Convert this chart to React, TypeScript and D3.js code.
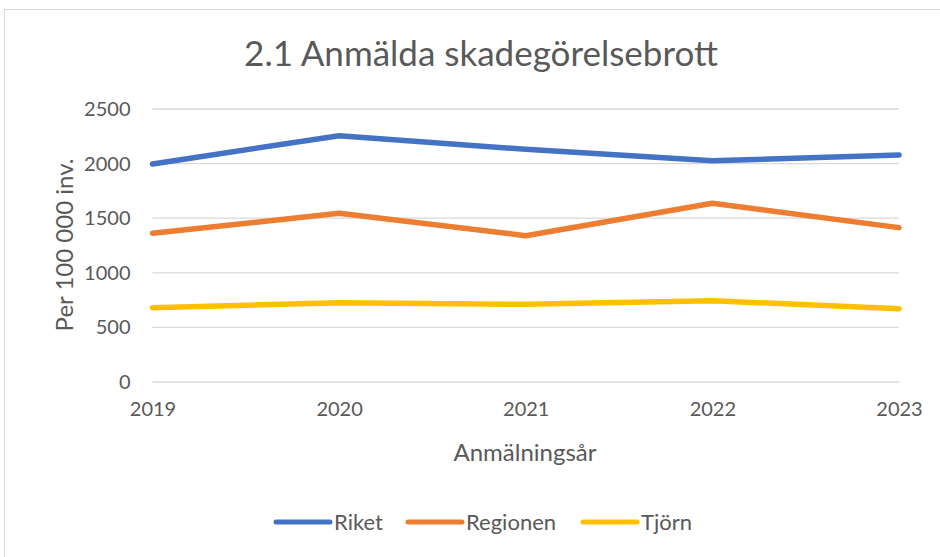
import React, { useEffect, useRef } from "react";
import * as d3 from "d3";

const years = ["2019", "2020", "2021", "2022", "2023"];
const riket = [1992, 2251, 2126, 2022, 2074];
const regionen = [1357, 1540, 1335, 1632, 1409];
const tjorn = [676, 722, 707, 740, 667];
const yTicks = [0, 500, 1000, 1500, 2000, 2500];
const seriesNames = ["Riket", "Regionen", "Tjörn"];
const seriesColors = ["#4472C4", "#ED7D31", "#FFC000"];

const W = 940;
const H = 557;
const font = "Lato, 'Open Sans', sans-serif";

export default function App() {
  const ref = useRef<SVGSVGElement>(null);

  useEffect(() => {
    const svg = d3.select(ref.current);
    svg.selectAll("*").remove();

    const margin = { left: 152.5, right: 41, top: 108.5, bottom: 175.5 };
    const xScale = d3.scalePoint().domain(years).range([margin.left, W - margin.right]);
    const yScale = d3.scaleLinear().domain([0, 2500]).range([H - margin.bottom, margin.top]);

    // chart frame
    svg.append("rect")
      .attr("x", 4.5).attr("y", 9.5)
      .attr("width", W + 20).attr("height", H + 20)
      .attr("fill", "white").attr("stroke", "#d9d9d9").attr("stroke-width", 1);

    svg.append("text")
      .attr("x", 481).attr("y", 66)
      .attr("text-anchor", "middle")
      .attr("font-size", 35).attr("fill", "#595959")
      .attr("font-family", font)
      .text("2.1 Anmälda skadegörelsebrott");

    // y axis with gridlines
    const yAxis = d3.axisLeft(yScale).tickValues(yTicks).tickFormat(d3.format("d"))
      .tickSize(-(W - margin.right - margin.left)).tickPadding(22);
    const gy = svg.append("g").attr("transform", `translate(${margin.left},0)`).call(yAxis);
    gy.select(".domain").remove();
    gy.selectAll(".tick line").attr("stroke", "#d9d9d9").attr("stroke-width", 1.3);
    gy.selectAll(".tick text")
      .attr("fill", "#595959").attr("font-size", 20).attr("font-family", font)
      .attr("dy", "0.35em");

    // x axis labels
    const xAxis = d3.axisBottom(xScale).tickSize(0).tickPadding(20);
    const gx = svg.append("g").attr("transform", `translate(0,${H - margin.bottom})`).call(xAxis);
    gx.select(".domain").remove();
    gx.selectAll(".tick text")
      .attr("fill", "#595959").attr("font-size", 20).attr("font-family", font);

    svg.append("text")
      .attr("x", 525).attr("y", 461)
      .attr("text-anchor", "middle")
      .attr("font-size", 24).attr("fill", "#595959").attr("font-family", font)
      .text("Anmälningsår");

    svg.append("text")
      .attr("transform", "translate(73,245) rotate(-90)")
      .attr("text-anchor", "middle")
      .attr("font-size", 24).attr("fill", "#595959").attr("font-family", font)
      .text("Per 100 000 inv.");

    const line = d3.line<number>()
      .x((d, i) => xScale(years[i]) as number)
      .y(d => yScale(d));

    const allSeries = [riket, regionen, tjorn];
    allSeries.forEach((vals, i) => {
      svg.append("path")
        .datum(vals)
        .attr("d", line)
        .attr("fill", "none")
        .attr("stroke", seriesColors[i])
        .attr("stroke-width", 5.5)
        .attr("stroke-linecap", "round")
        .attr("stroke-linejoin", "round");
    });

    // legend
    const legendX = [276, 408, 583];
    seriesNames.forEach((name, i) => {
      const g = svg.append("g").attr("transform", `translate(${legendX[i]},522)`);
      g.append("line")
        .attr("x1", 0).attr("x2", 54).attr("y1", 0).attr("y2", 0)
        .attr("stroke", seriesColors[i]).attr("stroke-width", 5).attr("stroke-linecap", "round");
      g.append("text")
        .attr("x", 58).attr("y", 0).attr("dy", "0.35em")
        .attr("font-size", 22).attr("fill", "#595959").attr("font-family", font)
        .text(name);
    });
  }, []);

  return (
    <svg ref={ref} width={W} height={H}
      style={{ position: "absolute", left: 0, top: 0, display: "block", background: "white" }} />
  );
}
